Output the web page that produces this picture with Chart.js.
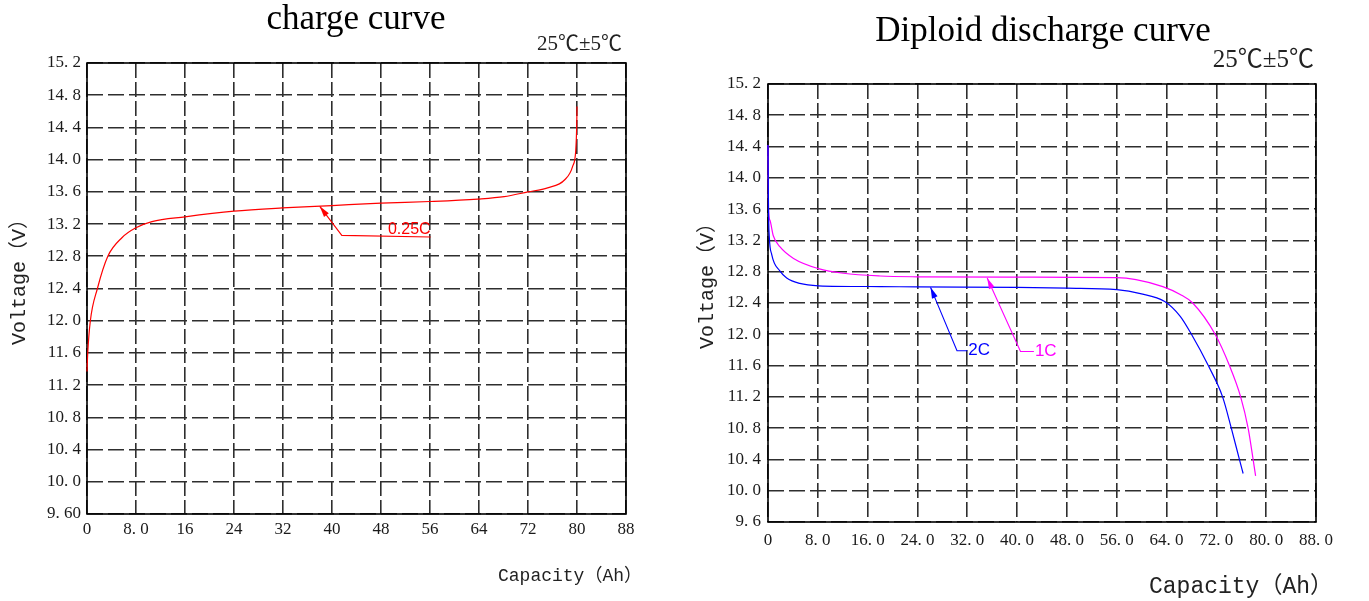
<!DOCTYPE html>
<html>
<head>
<meta charset="utf-8">
<script src="https://cdn.jsdelivr.net/npm/chart.js@4.4.1/dist/chart.umd.min.js"></script>
<style>
  html, body { margin: 0; padding: 0; background: #fff; }
  #wrap { position: relative; width: 1369px; height: 601px; overflow: hidden; }
  .box { position: absolute; top: 0; height: 601px; }
  #leftBox { left: 0; width: 684px; }
  #rightBox { left: 684px; width: 685px; }
</style>
</head>
<body>
<div id="wrap">
  <div class="box" id="leftBox"><canvas id="chargeChart"></canvas></div>
  <div class="box" id="rightBox"><canvas id="dischargeChart"></canvas></div>
</div>
<script>
/* ===============================
   Battery curves — data
================================ */

// shared axis ticks
const yTickValues = [9.6, 10.0, 10.4, 10.8, 11.2, 11.6, 12.0, 12.4, 12.8, 13.2, 13.6, 14.0, 14.4, 14.8, 15.2];
const xTickValues = [0, 8, 16, 24, 32, 40, 48, 56, 64, 72, 80, 88];

// tick labels as printed on each sheet
const chargeYLabels = ['9. 60', '10. 0', '10. 4', '10. 8', '11. 2', '11. 6', '12. 0', '12. 4', '12. 8', '13. 2', '13. 6', '14. 0', '14. 4', '14. 8', '15. 2'];
const dischargeYLabels = ['9. 6', '10. 0', '10. 4', '10. 8', '11. 2', '11. 6', '12. 0', '12. 4', '12. 8', '13. 2', '13. 6', '14. 0', '14. 4', '14. 8', '15. 2'];
const chargeXLabels = ['0', '8. 0', '16', '24', '32', '40', '48', '56', '64', '72', '80', '88'];
const dischargeXLabels = ['0', '8. 0', '16. 0', '24. 0', '32. 0', '40. 0', '48. 0', '56. 0', '64. 0', '72. 0', '80. 0', '88. 0'];

// 0.25C charge (Ah / V)
const chargeCap  = [0, 0.12, 0.55, 1.7, 3.4, 5.7, 7.9, 10.6, 16, 24, 31.9, 40, 48, 56, 63.8, 68.1, 72, 75.2, 78, 79.3, 79.8, 79.95, 80];
const chargeVolt = [11.37, 11.6, 12.0, 12.4, 12.8, 13.03, 13.15, 13.23, 13.29, 13.36, 13.40, 13.43, 13.46, 13.48, 13.51, 13.54, 13.60, 13.65, 13.75, 13.92, 14.12, 14.41, 14.66];

// 2C discharge
const cap2C  = [0, 0.08, 0.2, 0.6, 1.9, 3.0, 5.1, 8.1, 18, 24, 40, 48, 56, 59.8, 63.7, 66.2, 68.0, 70.7, 73.0, 74.4, 75.7, 76.3];
const volt2C = [14.42, 13.6, 13.26, 13.02, 12.81, 12.72, 12.65, 12.62, 12.61, 12.605, 12.6, 12.59, 12.57, 12.52, 12.42, 12.23, 12.0, 11.6, 11.2, 10.8, 10.4, 10.22];

// 1C discharge
const cap1C  = [0, 0.08, 0.3, 0.85, 1.9, 4.1, 8.1, 12.1, 18, 24, 40, 56, 59.1, 63.4, 66.2, 68.2, 71.8, 74.1, 75.9, 77.1, 77.9, 78.3];
const volt1C = [14.42, 13.6, 13.46, 13.26, 13.12, 12.97, 12.84, 12.78, 12.745, 12.735, 12.73, 12.725, 12.70, 12.61, 12.51, 12.4, 12.0, 11.6, 11.2, 10.8, 10.4, 10.19];

// leader lines: tip, elbow, end (Ah / V)
const note025CCap  = [38.0, 41.6, 56.1];
const note025CVolt = [13.42, 13.06, 13.04];
const note2CCap    = [26.1, 30.35, 32.0];
const note2CVolt   = [12.6, 11.79, 11.79];
const note1CCap    = [35.2, 40.55, 42.7];
const note1CVolt   = [12.72, 11.78, 11.78];

/* ===============================
   Plugins
================================ */

const toPoints = (xs, ys) => xs.map((x, i) => ({ x, y: ys[i] }));

// free text (titles, conditions, axis names)
const freeTextPlugin = {
    id: 'freeText',
    afterDraw(chart, _args, opts) {
        const ctx = chart.ctx;
        (opts.items || []).forEach(item => {
            ctx.save();
            ctx.font = item.font;
            ctx.fillStyle = item.color || '#000';
            ctx.textAlign = item.align || 'center';
            ctx.textBaseline = 'middle';
            ctx.translate(item.x, item.y);
            if (item.rotate) ctx.rotate(item.rotate);
            ctx.fillText(item.text, 0, 0);
            ctx.restore();
        });
    }
};

// solid frame round the plot
const framePlugin = {
    id: 'frame',
    beforeDatasetsDraw(chart) {
        const { ctx, chartArea: a } = chart;
        ctx.save();
        ctx.strokeStyle = '#000';
        ctx.lineWidth = 1.6;
        ctx.strokeRect(a.left, a.top, a.right - a.left, a.bottom - a.top);
        ctx.restore();
    }
};

// arrow + elbow + label pointing at a curve
const leaderPlugin = {
    id: 'leaders',
    afterDatasetsDraw(chart, _args, opts) {
        const { ctx, scales } = chart;
        (opts.items || []).forEach(n => {
            const px = n.cap.map(v => scales.x.getPixelForValue(v));
            const py = n.volt.map(v => scales.y.getPixelForValue(v));
            ctx.save();
            ctx.strokeStyle = n.color;
            ctx.fillStyle = n.color;
            ctx.lineWidth = 1.1;
            ctx.beginPath();
            ctx.moveTo(px[0], py[0]);
            ctx.lineTo(px[1], py[1]);
            ctx.lineTo(px[2], py[2]);
            ctx.stroke();

            // arrow head at the tip
            const ang = Math.atan2(py[0] - py[1], px[0] - px[1]);
            const len = 11, half = 3;
            ctx.beginPath();
            ctx.moveTo(px[0], py[0]);
            ctx.lineTo(px[0] - len * Math.cos(ang) + half * Math.sin(ang), py[0] - len * Math.sin(ang) - half * Math.cos(ang));
            ctx.lineTo(px[0] - len * Math.cos(ang) - half * Math.sin(ang), py[0] - len * Math.sin(ang) + half * Math.cos(ang));
            ctx.closePath();
            ctx.fill();

            ctx.font = n.font;
            if (n.labelSide === 'above') {
                ctx.textAlign = 'right';
                ctx.textBaseline = 'bottom';
                ctx.fillText(n.text, px[2], py[2] + 1);
            } else {
                ctx.textAlign = 'left';
                ctx.textBaseline = 'middle';
                ctx.fillText(n.text, px[2] + 1, py[2]);
            }
            ctx.restore();
        });
    }
};

/* ===============================
   Shared chart options
================================ */

const TICK_FONT = { family: "'Liberation Serif', 'DejaVu Serif', serif", size: 17 };
const GRID_COLOR = '#2e2e2e';

function buildOptions(cfg) {
    return {
        responsive: true,
        maintainAspectRatio: false,
        animation: false,
        events: [],
        layout: { padding: cfg.padding },
        plugins: {
            legend: { display: false },
            tooltip: { enabled: false },
            freeText: { items: cfg.texts },
            leaders: { items: cfg.leaders }
        },
        scales: {
            x: {
                type: 'linear',
                min: 0,
                max: 88,
                afterBuildTicks: s => { s.ticks = xTickValues.map(v => ({ value: v })); },
                afterFit: s => { s.height = cfg.xAxisHeight; },
                ticks: {
                    autoSkip: false,
                    maxRotation: 0,
                    padding: cfg.xTickPad,
                    color: '#1a1a1a',
                    font: TICK_FONT,
                    callback: (_v, i) => cfg.xLabels[i]
                },
                grid: { color: GRID_COLOR, lineWidth: 1.6, drawTicks: false },
                border: { display: false, dash: [15, 4] }
            },
            y: {
                type: 'linear',
                min: 9.6,
                max: 15.2,
                afterBuildTicks: s => { s.ticks = yTickValues.map(v => ({ value: v })); },
                afterFit: s => { s.width = cfg.yAxisWidth; },
                ticks: {
                    autoSkip: false,
                    padding: cfg.yTickPad,
                    color: '#1a1a1a',
                    font: TICK_FONT,
                    callback: (_v, i) => cfg.yLabels[i]
                },
                grid: { color: GRID_COLOR, lineWidth: 1.6, drawTicks: false },
                border: { display: false, dash: [16, 5] }
            }
        }
    };
}

function curve(label, xs, ys, color) {
    return {
        label,
        data: toPoints(xs, ys),
        borderColor: color,
        borderWidth: 1.2,
        pointRadius: 0,
        fill: false,
        clip: false,
        cubicInterpolationMode: 'monotone'
    };
}

const TITLE_FONT = "35px 'Liberation Serif', 'Times New Roman', serif";
const MONO = "'Liberation Mono', 'DejaVu Sans Mono', 'Noto Sans CJK SC', monospace";
const NOTE_SERIF = "'Liberation Serif', 'Noto Sans CJK SC', serif";

/* ===============================
   Charge curve
================================ */

new Chart(document.getElementById('chargeChart'), {
    type: 'line',
    data: { datasets: [curve('0.25C', chargeCap, chargeVolt, '#ff0000')] },
    plugins: [framePlugin, leaderPlugin, freeTextPlugin],
    options: buildOptions({
        padding: { left: 0, right: 58, top: 63, bottom: 0 },
        yAxisWidth: 87,
        xAxisHeight: 87,
        xTickPad: 5,
        yTickPad: 6,
        xLabels: chargeXLabels,
        yLabels: chargeYLabels,
        texts: [
            { text: 'charge curve', x: 356, y: 20, font: TITLE_FONT },
            { text: '25℃±5℃', x: 622, y: 44, align: 'right', font: '21px ' + NOTE_SERIF, color: '#222' },
            { text: 'Voltage（V）', x: 20, y: 277, rotate: -Math.PI / 2, font: '20px ' + MONO, color: '#222' },
            { text: 'Capacity（Ah）', x: 642, y: 576, align: 'right', font: '18px ' + MONO, color: '#222' }
        ],
        leaders: [
            { cap: note025CCap, volt: note025CVolt, text: '0.25C', color: '#ff0000',
              font: "16px 'Liberation Sans', Arial, sans-serif", labelSide: 'above' }
        ]
    })
});

/* ===============================
   Diploid discharge curve
================================ */

new Chart(document.getElementById('dischargeChart'), {
    type: 'line',
    data: {
        datasets: [
            curve('2C', cap2C, volt2C, '#0000ff'),
            curve('1C', cap1C, volt1C, '#ff00ff')
        ]
    },
    plugins: [framePlugin, leaderPlugin, freeTextPlugin],
    options: buildOptions({
        padding: { left: 0, right: 53, top: 84, bottom: 0 },
        yAxisWidth: 84,
        xAxisHeight: 79,
        xTickPad: 8,
        yTickPad: 7,
        xLabels: dischargeXLabels,
        yLabels: dischargeYLabels,
        texts: [
            { text: 'Diploid discharge curve', x: 359, y: 32, font: TITLE_FONT },
            { text: '25℃±5℃', x: 630, y: 60, align: 'right', font: '25px ' + NOTE_SERIF, color: '#222' },
            { text: 'Voltage（V）', x: 24, y: 281, rotate: -Math.PI / 2, font: '20px ' + MONO, color: '#222' },
            { text: 'Capacity（Ah）', x: 649, y: 587, align: 'right', font: '23px ' + MONO, color: '#222' }
        ],
        leaders: [
            { cap: note2CCap, volt: note2CVolt, text: '2C', color: '#0000ff',
              font: "17px 'Liberation Sans', Arial, sans-serif" },
            { cap: note1CCap, volt: note1CVolt, text: '1C', color: '#ff00ff',
              font: "17px 'Liberation Sans', Arial, sans-serif" }
        ]
    })
});
</script>
</body>
</html>
